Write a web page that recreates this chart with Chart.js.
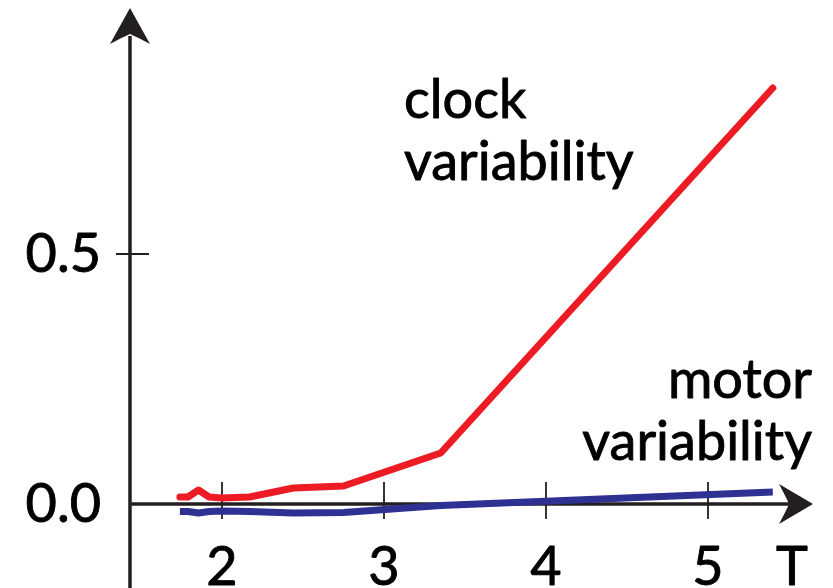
<!DOCTYPE html>
<html><head><meta charset="utf-8">
<script src="https://cdn.jsdelivr.net/npm/chart.js@4.4.0/dist/chart.umd.min.js"></script>
<style>html,body{margin:0;padding:0;background:#fff;overflow:hidden}#wrap{width:833px;height:588px;position:relative}</style>
</head><body><div id="wrap"><canvas id="c" width="833" height="588"></canvas></div>
<script>
// ---- data ----
const T = [1.74, 1.79, 1.855, 1.92, 2.0, 2.17, 2.44, 2.75, 3.35, 5.4];
const clockVariability = [0.014, 0.014, 0.028, 0.014, 0.012, 0.014, 0.032, 0.036, 0.102, 0.832];
const motorVariability = [-0.015, -0.015, -0.018, -0.015, -0.014, -0.015, -0.018, -0.017, -0.003, 0.024];
const xTicks = [2, 3, 4, 5];
const yTicks = [0, 0.5];
const xAxisTitle = 'T';
const clockLabel = ['clock', 'variability'];
const motorLabel = ['motor', 'variability'];

const RED = '#ED1C24', BLUE = '#2E3192', INK = '#231F20', TEXT = '#000000';
const FONT = 'Lato, "Open Sans", sans-serif';

const toXY = (xs, ys) => xs.map((x, i) => ({x: x, y: ys[i]}));

function boldText(ctx, s, x, y) {
  ctx.fillText(s, x, y);
  ctx.strokeText(s, x, y);
}

const axesPlugin = {
  id: 'axes',
  beforeDatasetsDraw(chart) {
    const ctx = chart.ctx, xs = chart.scales.x, ys = chart.scales.y;
    const x0 = xs.getPixelForValue(1.432), y0 = ys.getPixelForValue(0);
    ctx.save();
    ctx.strokeStyle = INK; ctx.fillStyle = INK;
    // y axis line
    ctx.lineWidth = 3.5;
    ctx.beginPath(); ctx.moveTo(x0, 588); ctx.lineTo(x0, 36); ctx.stroke();
    // x axis line
    ctx.beginPath(); ctx.moveTo(x0, y0); ctx.lineTo(792, y0); ctx.stroke();
    // arrow heads
    ctx.beginPath();
    ctx.moveTo(x0, 8); ctx.lineTo(x0 + 20, 44); ctx.quadraticCurveTo(x0 + 5, 36, x0, 34);
    ctx.quadraticCurveTo(x0 - 5, 36, x0 - 20, 44); ctx.closePath(); ctx.fill();
    ctx.beginPath();
    ctx.moveTo(813, y0); ctx.lineTo(779, y0 - 20); ctx.quadraticCurveTo(787, y0 - 5, 789, y0);
    ctx.quadraticCurveTo(787, y0 + 5, 779, y0 + 20); ctx.closePath(); ctx.fill();
    // ticks
    ctx.lineWidth = 1.8;
    xTicks.forEach(v => {
      const px = xs.getPixelForValue(v);
      ctx.beginPath(); ctx.moveTo(px, y0 - 22); ctx.lineTo(px, y0 + 15); ctx.stroke();
    });
    yTicks.forEach(v => {
      if (v === 0) return;
      const py = ys.getPixelForValue(v);
      ctx.beginPath(); ctx.moveTo(x0 - 14, py); ctx.lineTo(x0 + 19, py); ctx.stroke();
    });
    // tick labels
    ctx.fillStyle = TEXT; ctx.strokeStyle = TEXT; ctx.lineWidth = 0.9; ctx.lineJoin = 'round';
    ctx.font = '54px ' + FONT;
    ctx.textAlign = 'center'; ctx.textBaseline = 'alphabetic';
    xTicks.forEach(v => boldText(ctx, String(v), xs.getPixelForValue(v), 585));
    boldText(ctx, xAxisTitle, 792, 585);
    ctx.textAlign = 'right'; ctx.textBaseline = 'middle';
    yTicks.forEach(v => boldText(ctx, v.toFixed(1), 101, ys.getPixelForValue(v) + 1));
    // series labels
    ctx.font = '54px ' + FONT;
    ctx.textAlign = 'left'; ctx.textBaseline = 'alphabetic';
    boldText(ctx, clockLabel[0], 404, 118);
    boldText(ctx, clockLabel[1], 404, 180);
    ctx.textAlign = 'right';
    boldText(ctx, motorLabel[0], 812, 398);
    boldText(ctx, motorLabel[1], 812, 460);
    ctx.restore();
  }
};

new Chart(document.getElementById('c'), {
  type: 'scatter',
  data: {
    datasets: [
      {label: 'clock variability', data: toXY(T, clockVariability), showLine: true, borderColor: RED,
       borderWidth: 7, pointRadius: 0, borderCapStyle: 'round', borderJoinStyle: 'round', tension: 0, clip: false},
      {label: 'motor variability', data: toXY(T, motorVariability), showLine: true, borderColor: BLUE,
       borderWidth: 7, pointRadius: 0, borderCapStyle: 'butt', borderJoinStyle: 'round', tension: 0, clip: false}
    ]
  },
  options: {
    responsive: false, animation: false, devicePixelRatio: 1,
    layout: {padding: 0},
    plugins: {legend: {display: false}, tooltip: {enabled: false}},
    scales: {
      x: {type: 'linear', min: 0.6296, max: 5.7716, display: false},
      y: {type: 'linear', min: -0.168, max: 1.008, display: false}
    }
  },
  plugins: [axesPlugin]
});
</script>
</body></html>
